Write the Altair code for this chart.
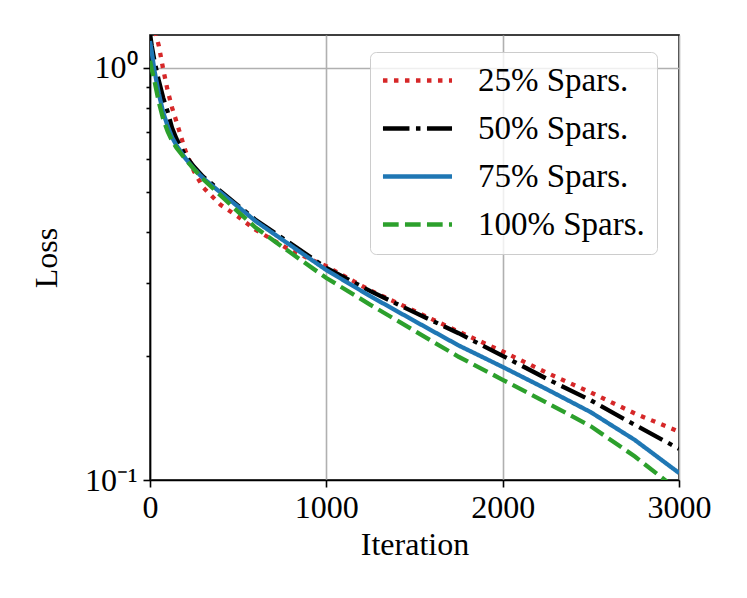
import altair as alt
import pandas as pd

iters = [0, 10, 25, 50, 75, 100, 125, 150, 200, 250, 300, 400, 500, 600, 800, 1000,
         1250, 1500, 1750, 2000, 2250, 2500, 2750, 3000]

loss_25 = [1.38, 1.33, 1.24, 1.13, 0.99, 0.88, 0.80, 0.74, 0.63, 0.56, 0.513, 0.465,
           0.435, 0.404, 0.360, 0.330, 0.288, 0.257, 0.229, 0.205, 0.182, 0.163, 0.145, 0.131]
loss_50 = [1.21, 1.13, 1.04, 0.93, 0.845, 0.782, 0.715, 0.672, 0.612, 0.575, 0.545, 0.502,
           0.463, 0.427, 0.374, 0.327, 0.287, 0.255, 0.227, 0.200, 0.176, 0.156, 0.136, 0.119]
loss_75 = [1.16, 1.09, 0.985, 0.865, 0.778, 0.722, 0.678, 0.648, 0.603, 0.568, 0.540, 0.498,
           0.460, 0.424, 0.370, 0.323, 0.279, 0.243, 0.212, 0.188, 0.166, 0.146, 0.125, 0.104]
loss_100 = [1.04, 0.99, 0.93, 0.825, 0.75, 0.700, 0.665, 0.639, 0.600, 0.567, 0.537, 0.490,
            0.447, 0.409, 0.355, 0.309, 0.266, 0.230, 0.199, 0.175, 0.154, 0.135, 0.114, 0.094]

series = ["25% Spars.", "50% Spars.", "75% Spars.", "100% Spars."]
colors = ["#d62728", "#000000", "#1f77b4", "#2ca02c"]
dashes = [[4.5, 6.5], [26.5, 6.5, 4.5, 6.5], [1, 0], [15.7, 6.3]]
x_ticks = [0, 1000, 2000, 3000]
y_ticks = [0.1, 0.2, 0.3, 0.4, 0.5, 0.6, 0.7, 0.8, 0.9, 1.0]

rows = []
for k, (name, vals) in enumerate(zip(series, [loss_25, loss_50, loss_75, loss_100])):
    for it, v in zip(iters, vals):
        rows.append({"iteration": it, "loss": v, "series": name, "k": k})
df = pd.DataFrame(rows)

FONT = "Liberation Serif"

chart = alt.Chart(df).mark_line(strokeWidth=4.3, clip=True).encode(
    x=alt.X("iteration:Q",
            scale=alt.Scale(domain=[0, 3000], nice=False, zero=False),
            axis=alt.Axis(values=x_ticks, title="Iteration", labelFlush=False,
                          format="d", labelPadding=5, titlePadding=6)),
    y=alt.Y("loss:Q",
            scale=alt.Scale(type="log", domain=[0.1, 1.2], nice=False),
            axis=alt.Axis(values=y_ticks, title="Loss", labelOverlap=False,
                          labelExpr="datum.value > 0.99 ? '10⁰' : (datum.value < 0.11 ? '10⁻¹' : '')",
                          tickSize={"condition": {"test": "datum.value > 0.99 || datum.value < 0.11", "value": 7}, "value": 4},
                          gridOpacity={"condition": {"test": "datum.value > 0.99", "value": 1}, "value": 0},
                          labelPadding=6, titlePadding=21)),
    color=alt.Color("series:N", scale=alt.Scale(domain=series, range=colors),
                    legend=alt.Legend(title=None)),
    strokeDash=alt.StrokeDash("series:N", scale=alt.Scale(domain=series, range=dashes),
                              legend=alt.Legend(title=None)),
    order=alt.Order("k:Q"),
).properties(
    width=529, height=445,
    autosize=alt.AutoSizeParams(type="none"),
    padding={"left": 142, "top": 27, "right": 50, "bottom": 100},
).configure_view(
    stroke="#000000", strokeWidth=1.6
).configure_axis(
    domainColor="#000000", domainWidth=1.6,
    tickColor="#000000", tickWidth=1.6, tickSize=7,
    grid=True, gridColor="#b0b0b0", gridWidth=1.6,
    labelFont=FONT, labelFontSize=32, labelColor="#000000",
    titleFont=FONT, titleFontSize=32, titleFontWeight="normal", titleColor="#000000",
).configure_legend(
    orient="none", legendX=220, legendY=17,
    padding=12, fillColor="rgba(255,255,255,0.8)", strokeColor="#cccccc",
    cornerRadius=6, symbolType="M-1.8,0H6.2", symbolSize=298, symbolStrokeWidth=4.3,
    labelFont=FONT, labelFontSize=33, labelColor="#000000", labelOffset=63,
    labelLimit=400, rowPadding=14,
)

chart.save("out.html", embed_options={"renderer": "svg", "actions": False})
